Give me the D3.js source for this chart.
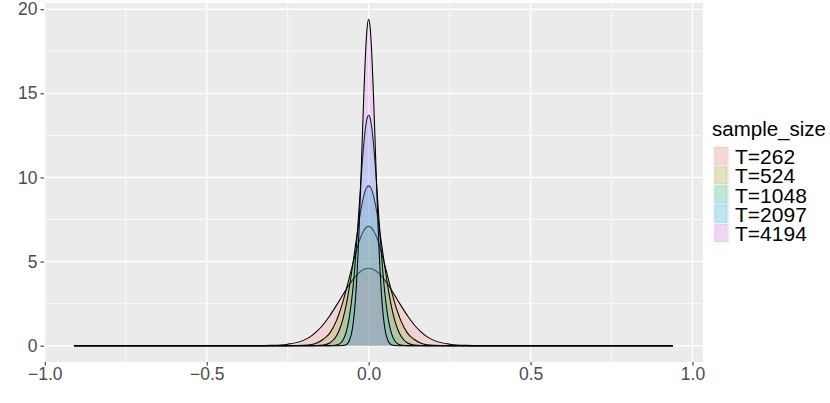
<!DOCTYPE html>
<html><head><meta charset="utf-8">
<script src="https://cdn.jsdelivr.net/npm/d3@7"></script>
<style>
body{margin:0;background:#fff;}
svg{display:block;font-family:"Liberation Sans",Arial,Helvetica,sans-serif;}
</style></head>
<body><svg id="c" width="830" height="403"></svg>
<script>
// ---- data (density estimates) ----
const groups = ["T=262","T=524","T=1048","T=2097","T=4194"];
const colors = ["#F8766D","#A3A500","#00BF7D","#00B0F6","#E76BF3"];
const xGrid = [-0.91,-0.45,-0.35,-0.30,-0.25,-0.20,-0.18,-0.16,-0.14,-0.12,-0.10,-0.09,-0.08,-0.07,-0.06,-0.05,-0.04,-0.03,-0.025,-0.02,-0.015,-0.01,-0.005,0,
  0.005,0.01,0.015,0.02,0.025,0.03,0.04,0.05,0.06,0.07,0.08,0.09,0.10,0.12,0.14,0.16,0.18,0.20,0.25,0.30,0.35,0.45,0.94];
const d262 = [0,0.001,0.005,0.02,0.09,0.33,0.54,0.85,1.26,1.78,2.38,2.69,3.01,3.33,3.63,3.90,4.14,4.33,4.41,4.48,4.53,4.57,4.59,4.60,
  4.59,4.57,4.53,4.48,4.41,4.33,4.14,3.90,3.63,3.33,3.01,2.69,2.38,1.78,1.26,0.85,0.54,0.33,0.09,0.02,0.005,0.001,0];
const d524 = [0,0,0,0.001,0.004,0.025,0.06,0.16,0.38,0.75,1.46,1.97,2.58,3.27,4.02,4.78,5.51,6.16,6.43,6.66,6.85,6.99,7.07,7.10,
  7.07,6.99,6.85,6.66,6.43,6.16,5.51,4.78,4.02,3.27,2.58,1.97,1.46,0.75,0.38,0.16,0.06,0.025,0.004,0.001,0,0,0];
const d1048 = [0,0,0,0,0,0,0.001,0.008,0.04,0.16,0.56,0.96,1.55,2.37,3.42,4.68,6.04,7.36,7.96,8.48,8.91,9.23,9.43,9.50,
  9.43,9.23,8.91,8.48,7.96,7.36,6.04,4.68,3.42,2.37,1.55,0.96,0.56,0.16,0.04,0.008,0.001,0,0,0,0,0,0];
const d2097 = [0,0,0,0,0,0,0,0,0,0.003,0.04,0.11,0.31,0.76,1.64,3.13,5.33,8.05,9.47,10.82,12.00,12.91,13.50,13.70,
  13.50,12.91,12.00,10.82,9.47,8.05,5.33,3.13,1.64,0.76,0.31,0.11,0.04,0.003,0,0,0,0,0,0,0,0,0];
const d4194 = [0,0,0,0,0,0,0,0,0,0,0,0.001,0.01,0.06,0.28,1.02,2.94,6.72,9.29,12.11,14.88,17.24,18.84,19.40,
  18.84,17.24,14.88,12.11,9.29,6.72,2.94,1.02,0.28,0.06,0.01,0.001,0,0,0,0,0,0,0,0,0,0,0];
const series = [d262,d524,d1048,d2097,d4194];
const xTicks = [-1.0,-0.5,0.0,0.5,1.0];
const xMinor = [-0.75,-0.25,0.25,0.75];
const yTicks = [0,5,10,15,20];
const yMinor = [2.5,7.5,12.5,17.5];

// ---- layout ----
const svg = d3.select("#c");
const P = {l:44, r:703, t:3, b:362};
const x = d3.scaleLinear().domain([-1.0025,1.0325]).range([P.l,P.r]);
const y = d3.scaleLinear().domain([-0.97,20.37]).range([P.b,P.t]);
const fmt = v => (v<0?"\u2212":"") + Math.abs(v).toFixed(1);

svg.append("rect").attr("x",P.l).attr("y",P.t).attr("width",P.r-P.l).attr("height",P.b-P.t).attr("fill","#EBEBEB");
const g = svg.append("g");
g.selectAll(".vmin").data(xMinor).join("line").attr("x1",d=>x(d)).attr("x2",d=>x(d)).attr("y1",P.t).attr("y2",P.b).attr("stroke","#fff").attr("stroke-width",0.7);
g.selectAll(".hmin").data(yMinor).join("line").attr("y1",d=>y(d)).attr("y2",d=>y(d)).attr("x1",P.l).attr("x2",P.r).attr("stroke","#fff").attr("stroke-width",0.7);
g.selectAll(".vmaj").data(xTicks).join("line").attr("x1",d=>x(d)).attr("x2",d=>x(d)).attr("y1",P.t).attr("y2",P.b).attr("stroke","#fff").attr("stroke-width",1.4);
g.selectAll(".hmaj").data(yTicks).join("line").attr("y1",d=>y(d)).attr("y2",d=>y(d)).attr("x1",P.l).attr("x2",P.r).attr("stroke","#fff").attr("stroke-width",1.4);

const area = d3.area().x((d,i)=>x(xGrid[i])).y0(y(0)).y1(d=>y(d)).curve(d3.curveMonotoneX);
const line = d3.line().x((d,i)=>x(xGrid[i])).y(d=>y(d)).curve(d3.curveMonotoneX);
series.forEach((s,k)=>{
  svg.append("path").attr("d",area(s)).attr("fill",colors[k]).attr("fill-opacity",0.2);
  svg.append("path").attr("d",line(s)).attr("fill","none").attr("stroke","#000").attr("stroke-width",1.07);
});

// axes
const xa = svg.append("g").attr("transform",`translate(0,${P.b})`)
  .call(d3.axisBottom(x).tickValues(xTicks).tickFormat(fmt).tickSize(3.5).tickPadding(2.5));
const ya = svg.append("g").attr("transform",`translate(${P.l},0)`)
  .call(d3.axisLeft(y).tickValues(yTicks).tickFormat(d3.format("d")).tickSize(3.5).tickPadding(3));
[xa,ya].forEach(a=>{
  a.select(".domain").remove();
  a.selectAll(".tick line").attr("stroke","#333").attr("stroke-width",1.07);
  a.selectAll(".tick text").attr("fill","#4D4D4D").attr("font-size",17.5).attr("font-family","Liberation Sans, Arial, sans-serif");
});

// legend
const lg = svg.append("g");
lg.append("text").attr("x",712).attr("y",136).attr("font-size",20.5).attr("fill","#000").text("sample_size");
const kh = 19.2, ky0 = 146.5;
groups.forEach((name,k)=>{
  lg.append("rect").attr("x",713).attr("y",ky0+k*kh).attr("width",17).attr("height",kh).attr("fill","#F2F2F2");
  lg.append("rect").attr("x",715).attr("y",ky0+k*kh+1).attr("width",12).attr("height",kh-2)
    .attr("fill",colors[k]).attr("fill-opacity",0.2).attr("stroke",colors[k]).attr("stroke-opacity",0.25);
  lg.append("text").attr("x",735).attr("y",ky0+k*kh+kh-1.5).attr("font-size",21).attr("fill","#000").text(name);
});
</script></body></html>
